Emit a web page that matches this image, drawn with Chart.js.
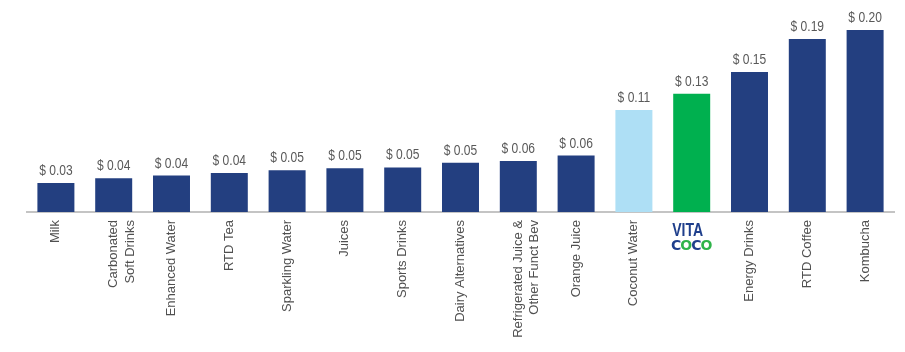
<!DOCTYPE html>
<html>
<head>
<meta charset="utf-8">
<script src="https://cdn.jsdelivr.net/npm/chart.js@4.4.1/dist/chart.umd.min.js"></script>
<style>
  html, body { margin: 0; padding: 0; background: #ffffff; }
  #wrap { width: 905px; height: 352px; position: relative; }
</style>
</head>
<body>
<div id="wrap"><canvas id="priceChart" width="905" height="352"></canvas></div>
<script>
const categories = [
  "Milk",
  ["Carbonated", "Soft Drinks"],
  "Enhanced Water",
  "RTD Tea",
  "Sparkling Water",
  "Juices",
  "Sports Drinks",
  "Dairy Alternatives",
  ["Refrigerated Juice &", "Other Funct Bev"],
  "Orange Juice",
  "Coconut Water",
  "Vita Coco",
  "Energy Drinks",
  "RTD Coffee",
  "Kombucha",
];

// price per ounce
const pricePerOz = [
  0.032, 0.037, 0.040, 0.043, 0.046, 0.048, 0.049, 0.054,
  0.056, 0.062, 0.112, 0.130, 0.154, 0.190, 0.200,
];

const valueLabels = [
  "$ 0.03", "$ 0.04", "$ 0.04", "$ 0.04", "$ 0.05", "$ 0.05", "$ 0.05", "$ 0.05",
  "$ 0.06", "$ 0.06", "$ 0.11", "$ 0.13", "$ 0.15", "$ 0.19", "$ 0.20",
];

const NAVY = "#233f80";
const barColors = categories.map((c) => {
  if (c === "Coconut Water") return "#aedff5";
  if (c === "Vita Coco") return "#00b04f";
  return NAVY;
});

const LOGO_INDEX = categories.indexOf("Vita Coco");

// narrow-looking text: squeeze Liberation Sans horizontally
function narrowText(ctx, text, x, y, squeeze) {
  ctx.save();
  ctx.translate(x, y);
  ctx.scale(squeeze, 1);
  ctx.fillText(text, 0, 0);
  ctx.restore();
}

const valueLabelPlugin = {
  id: "valueLabels",
  afterDatasetsDraw(chart) {
    const ctx = chart.ctx;
    const meta = chart.getDatasetMeta(0);
    ctx.save();
    ctx.font = '14px "Liberation Sans", Arial, sans-serif';
    ctx.fillStyle = "#595959";
    ctx.textAlign = "center";
    ctx.textBaseline = "alphabetic";
    meta.data.forEach((bar, i) => {
      narrowText(ctx, valueLabels[i], bar.x, bar.y - 8, 0.86);
    });
    ctx.restore();
  },
};

// brand logo under the green bar, drawn as text
const logoPlugin = {
  id: "vitaCocoLogo",
  afterDraw(chart) {
    const ctx = chart.ctx;
    const x = chart.scales.x.getPixelForValue(LOGO_INDEX);
    ctx.save();
    ctx.textBaseline = "alphabetic";
    ctx.font = '900 18px "Liberation Sans", Arial, sans-serif';
    ctx.fillStyle = "#1f3f8c";
    ctx.textAlign = "center";
    narrowText(ctx, "VITA", x - 4, 236, 0.78);

    ctx.font = 'bold 14px "DejaVu Sans", Arial, sans-serif';
    const letters = ["C", "O", "C", "O"];
    const widths = letters.map((l) => ctx.measureText(l).width);
    const total = widths.reduce((a, b) => a + b, 0) - 3;
    let cx = x - total / 2;
    ctx.textAlign = "left";
    letters.forEach((l, i) => {
      ctx.fillStyle = l === "O" ? "#2fb34a" : "#1f3f8c";
      ctx.fillText(l, cx, 250);
      cx += widths[i] - 1;
    });
    ctx.restore();
  },
};

new Chart(document.getElementById("priceChart").getContext("2d"), {
  type: "bar",
  data: {
    labels: categories,
    datasets: [
      {
        data: pricePerOz,
        backgroundColor: barColors,
        borderWidth: 0,
        categoryPercentage: 1.0,
        barPercentage: 0.64,
      },
    ],
  },
  options: {
    responsive: false,
    animation: false,
    layout: { padding: { left: 27, right: 11, top: 0, bottom: 0 } },
    plugins: {
      legend: { display: false },
      tooltip: { enabled: false },
    },
    scales: {
      x: {
        grid: { display: false, drawTicks: false },
        border: { display: true, color: "#c4c4c4", width: 2 },
        afterFit(scale) {
          scale.height = 140;
        },
        ticks: {
          autoSkip: false,
          minRotation: 90,
          maxRotation: 90,
          padding: 8,
          color: "#505050",
          font: { family: '"Liberation Sans", Arial, sans-serif', size: 13, lineHeight: 1.25 },
          callback: function (value, index) {
            return index === LOGO_INDEX ? "" : categories[index];
          },
        },
      },
      y: {
        display: false,
        min: 0,
        max: 0.233,
      },
    },
  },
  plugins: [valueLabelPlugin, logoPlugin],
});
</script>
</body>
</html>
